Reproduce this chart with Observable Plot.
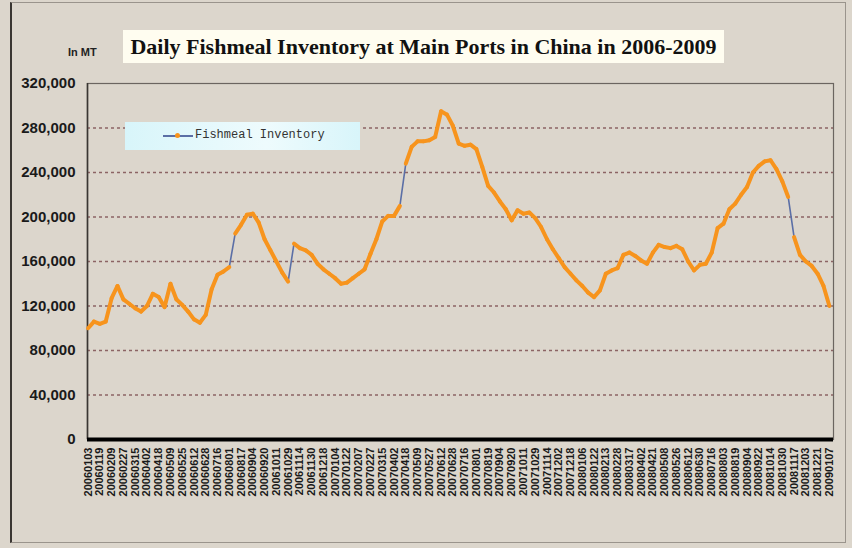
<!DOCTYPE html>
<html><head><meta charset="utf-8">
<script src="https://cdn.jsdelivr.net/npm/d3@7"></script>
<script src="https://cdn.jsdelivr.net/npm/@observablehq/plot@0.6"></script>
<style>
html,body{margin:0;padding:0;background:#dcd6cc;}
#wrap{position:relative;width:852px;height:548px;overflow:hidden;background:#dcd6cc;}
#frame{position:absolute;left:10px;top:2px;width:836px;height:541px;border:1px solid #9a948c;border-left:2px solid #3a3632;box-sizing:border-box;}
#title{position:absolute;left:123px;top:30px;width:601px;height:33px;background:#fffdf0;font:bold 22px "Liberation Serif",serif;color:#111;text-align:center;line-height:33px;white-space:nowrap;}
#unit{position:absolute;left:68px;top:46px;font:bold 11px "Liberation Sans",sans-serif;color:#222;}
#legend{position:absolute;left:125px;top:122px;width:235px;height:28px;background:linear-gradient(90deg,#d8f5fa,#eefbfd 60%,#d8f5fa);}
#legend .ln{position:absolute;left:38px;top:13px;width:30px;height:2px;background:#5b6fa6;}
#legend .dot{position:absolute;left:50px;top:11px;width:5px;height:5px;border-radius:50%;background:#f7941d;}
#legend .tx{position:absolute;left:70px;top:6px;font:12px "Liberation Mono",monospace;color:#333;}
svg{position:absolute;left:0;top:0;}
</style></head>
<body>
<div id="wrap">
  <div id="frame"></div>
  <div id="title">Daily Fishmeal Inventory at Main Ports in China in 2006-2009</div>
  <div id="unit">In MT</div>
</div>
<script>
const dateLabels = ["20060103","20060119","20060209","20060227","20060315","20060402","20060418","20060509","20060525","20060612","20060628","20060716","20060801","20060817","20060904","20060920","20061011","20061029","20061114","20061130","20061218","20070104","20070122","20070207","20070227","20070315","20070402","20070418","20070509","20070527","20070612","20070628","20070716","20070801","20070819","20070904","20070920","20071011","20071029","20071114","20071202","20071218","20080106","20080122","20080213","20080228","20080317","20080402","20080421","20080508","20080526","20080612","20080630","20080716","20080803","20080819","20080904","20080922","20081014","20081030","20081117","20081203","20081221","20090107"];

// inventory (MT), read at every half label interval
const inventory = [
100000,106000,104000,106000,127000,138000,126000,122000,118000,115000,
120000,131000,128000,119000,140000,126000,121000,115000,108000,105000,
112000,135000,148000,151000,155000,185000,193000,202000,203000,195000,
180000,170000,160000,150000,142000,176000,172000,170000,166000,158000,
153000,149000,145000,140000,141000,145000,149000,153000,167000,180000,
196000,201000,201000,210000,248000,263000,268000,268000,269000,272000,
295000,292000,282000,266000,264000,265000,261000,245000,228000,222000,
214000,207000,197000,206000,203000,204000,199000,191000,180000,171000,
163000,155000,149000,143000,138000,132000,128000,134000,149000,152000,
154000,166000,168000,165000,161000,158000,168000,175000,173000,172000,
174000,171000,160000,152000,157000,158000,168000,190000,194000,207000,
212000,220000,227000,240000,246000,250000,251000,243000,232000,218000,
182000,166000,160000,156000,149000,138000,120000
];

const yTicks = [0,40000,80000,120000,160000,200000,240000,280000,320000];
const gridTicks = [40000,80000,120000,160000,200000,240000,280000];

const points = inventory.map((v, j) => ({x: j / 2, y: v}));
const segs = d3.pairs(points).map(([a, b]) => ({x1: a.x, y1: a.y, x2: b.x, y2: b.y, steep: Math.abs(b.y - a.y) > 28000}));

const chart = Plot.plot({
  width: 852, height: 548,
  marginLeft: 87, marginRight: 19, marginTop: 83, marginBottom: 109,
  style: {background: "transparent", fontFamily: "Liberation Sans", color: "#222"},
  x: {domain: [-0.05, 63.35], axis: null},
  y: {domain: [0, 320000], axis: null},
  marks: [
    Plot.ruleY(gridTicks, {stroke: "#8c6464", strokeDasharray: "3,3", strokeWidth: 1.3}),
    Plot.frame({stroke: "#6b6560", strokeWidth: 1.2}),
    Plot.ruleX([-0.05], {stroke: "#3a3632", strokeWidth: 1.6}),
    Plot.axisY({ticks: yTicks, tickFormat: d3.format(","), tickSize: 0, tickPadding: 12, fontSize: 15, fontWeight: "bold", fill: "#1a1a1a"}),
    Plot.axisX({ticks: d3.range(dateLabels.length), tickFormat: i => dateLabels[i], tickRotate: -90, tickSize: 0, tickPadding: 8, fontSize: 11, fontWeight: "bold", fill: "#1a1a1a"}),
    Plot.line(points, {x: "x", y: "y", stroke: "#5b6fa6", strokeWidth: 1.6}),
    Plot.link(segs.filter(d => !d.steep), {x1: "x1", y1: "y1", x2: "x2", y2: "y2", stroke: "#f7941d", strokeWidth: 4, strokeLinecap: "round"}),
    Plot.ruleY([0], {stroke: "#000", strokeWidth: 4})
  ]
});
const wrap = document.getElementById("wrap");
wrap.insertBefore(chart, wrap.firstChild.nextSibling);
const legend = document.createElement("div");
legend.id = "legend";
legend.innerHTML = '<div class="ln"></div><div class="dot"></div><div class="tx">Fishmeal Inventory</div>';
wrap.appendChild(legend);
</script>
</body></html>
